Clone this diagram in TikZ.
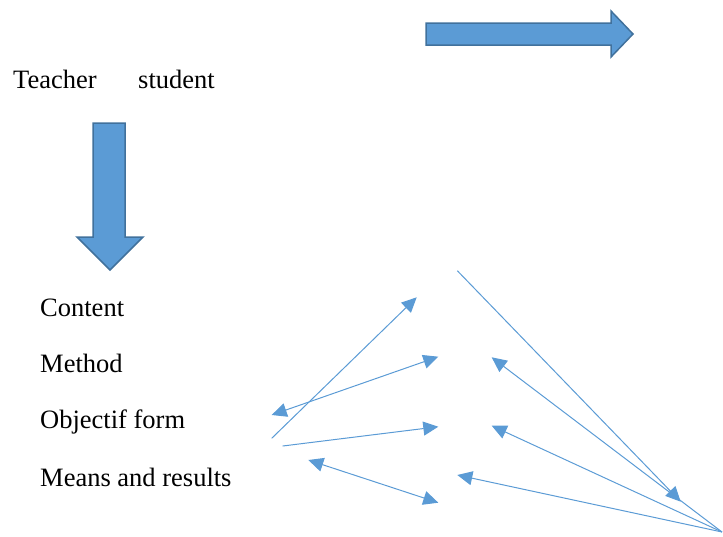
\documentclass[tikz,border=0pt]{standalone}
\usepackage{fontspec}
\setmainfont{Liberation Serif}
\usetikzlibrary{arrows.meta}
\definecolor{officeblue}{HTML}{5B9BD5}
\definecolor{officeedge}{HTML}{41719C}
\tikzset{
  lbl/.style={anchor=base west,inner sep=0pt,font=\fontsize{26.5}{30}\selectfont},
  bigarrow/.style={fill=officeblue,draw=officeedge,line width=1.5pt,line join=miter},
  link/.style={officeblue,line width=1pt},
  tri/.tip={Triangle[length=15pt,width=14pt]},
}
\begin{document}
\begin{tikzpicture}[x=1pt,y=-1pt]
\useasboundingbox (0,0) rectangle (723,536);
% block arrows
\draw[bigarrow] (426,23) -- (611,23) -- (611,11) -- (633,34) -- (611,57) -- (611,45) -- (426,45) -- cycle;
\draw[bigarrow] (93,123) -- (125,123) -- (125,237) -- (143,237) -- (110,270) -- (77,237) -- (93,237) -- cycle;
% labels
\node[lbl] (teacher) at (13,88) {Teacher};
\node[lbl] (student) at (138,88) {student};
\node[lbl] (content) at (40,316.7) {Content};
\node[lbl] (method) at (40,372.3) {Method};
\node[lbl] (objectif) at (40,428.3) {Objectif form};
\node[lbl] (means) at (40,486) {Means and results};
% line ends
\coordinate (l1a) at (271.7,438.3);
\coordinate (l1b) at (416.7,297.3);
\coordinate (l2a) at (271.7,415);
\coordinate (l2b) at (438.3,356.7);
\coordinate (l3a) at (282.7,446);
\coordinate (l3b) at (438.3,426.7);
\coordinate (l4a) at (308.3,460);
\coordinate (l4b) at (438.3,502.7);
\coordinate (top) at (457.3,270.7);
\coordinate (mid) at (680.7,501.7);
\coordinate (corner) at (722,532);
\coordinate (r1) at (491.7,357.3);
\coordinate (r2) at (491.7,425.7);
\coordinate (r3) at (457.3,475);
% links
\draw[link,-tri] (l1a) -- (l1b);
\draw[link,tri-tri] (l2a) -- (l2b);
\draw[link,-tri] (l3a) -- (l3b);
\draw[link,tri-tri] (l4a) -- (l4b);
\draw[link,-tri] (top) -- (mid);
\draw[link,-tri] (corner) -- (r1);
\draw[link,-tri] (corner) -- (r2);
\draw[link,-tri] (corner) -- (r3);
\end{tikzpicture}
\end{document}
